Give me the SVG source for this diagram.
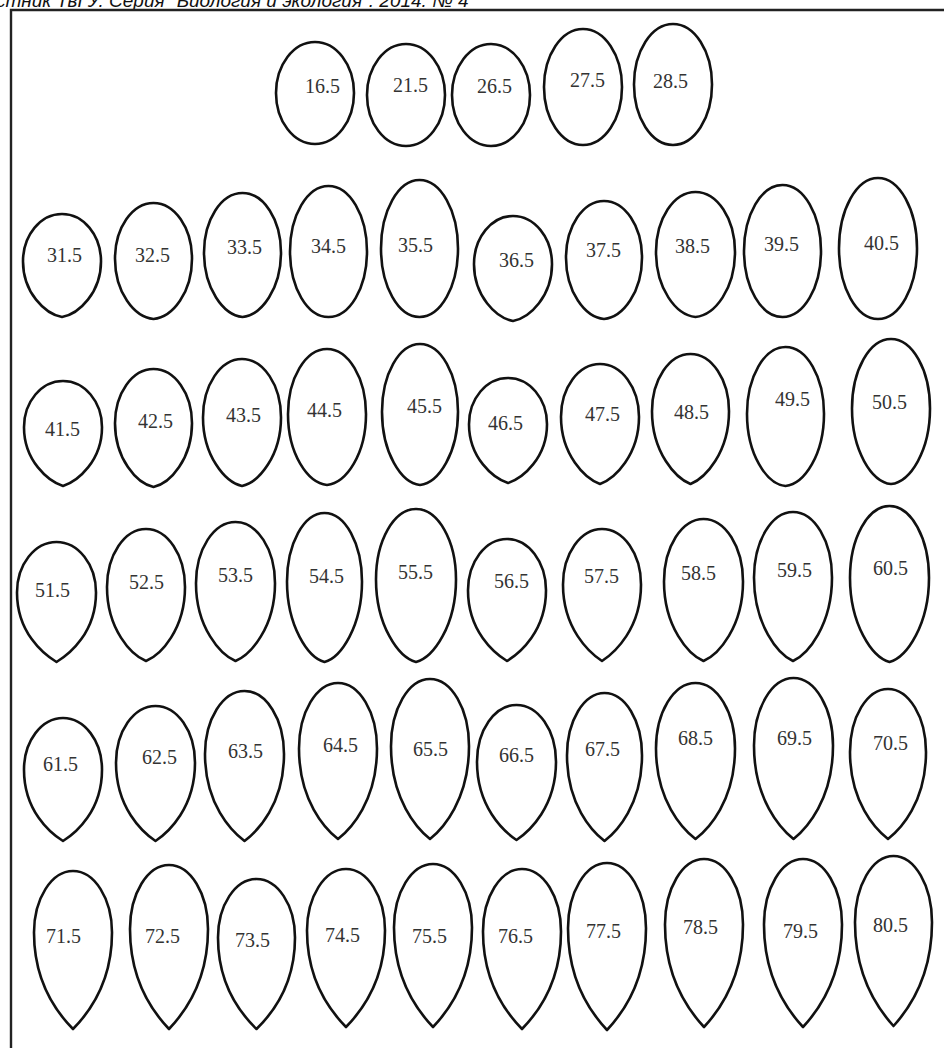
<svg xmlns="http://www.w3.org/2000/svg" xmlns:xlink="http://www.w3.org/1999/xlink" width="944" height="1048" viewBox="0 0 944 1048">
<style>
.egg{fill:#fff;stroke:#111;stroke-width:2.6;stroke-linejoin:round}
.lbl{font-family:'Liberation Serif','DejaVu Serif',serif;font-size:20px;fill:#333}
.hdr{font-family:'Liberation Sans',Arial,sans-serif;font-size:19px;font-style:italic;fill:#111}
.frame{fill:none;stroke:#222;stroke-width:2.4}
</style>
<defs>
<path id="T0" class="egg" vector-effect="non-scaling-stroke" d="M-1,0.5 C-1,0.224 -0.552,0 0,0 C0.552,0 1,0.224 1,0.5 C1,0.776 0.552,1 0,1 C-0.552,1 -1,0.776 -1,0.5Z"/>
<path id="T1" class="egg" vector-effect="non-scaling-stroke" d="M-1,0.48 C-1,0.215 -0.552,0 0,0 C0.552,0 1,0.215 1,0.48 C1,0.77 0.5,0.985 0,1 C-0.5,0.985 -1,0.77 -1,0.48Z"/>
<path id="T2" class="egg" vector-effect="non-scaling-stroke" d="M-1,0.46 C-1,0.206 -0.552,0 0,0 C0.552,0 1,0.206 1,0.46 C1,0.76 0.44,0.97 0,1 C-0.44,0.97 -1,0.76 -1,0.46Z"/>
<path id="T3" class="egg" vector-effect="non-scaling-stroke" d="M-1,0.44 C-1,0.197 -0.552,0 0,0 C0.552,0 1,0.197 1,0.44 C1,0.76 0.38,0.955 0,1 C-0.38,0.955 -1,0.76 -1,0.44Z"/>
<path id="T4" class="egg" vector-effect="non-scaling-stroke" d="M-1,0.42 C-1,0.188 -0.552,0 0,0 C0.552,0 1,0.188 1,0.42 C1,0.755 0.33,0.935 0,1 C-0.33,0.935 -1,0.755 -1,0.42Z"/>
<path id="T5" class="egg" vector-effect="non-scaling-stroke" d="M-1,0.39 C-1,0.175 -0.552,0 0,0 C0.552,0 1,0.175 1,0.39 C1,0.73 0.3,0.925 0,1 C-0.3,0.925 -1,0.73 -1,0.39Z"/>
</defs>
<rect width="944" height="1048" fill="#fff"/>
<text class="hdr" x="-4" y="7">стник ТвГУ. Серия "Биология и экология". 2014. № 4</text>
<path class="frame" d="M11,1048 V10 H944"/>
<g id="connectors"/>

<g id="e16"><use xlink:href="#T0" transform="translate(315,42) scale(39,102)"/><text class="lbl" x="305" y="93">16.5</text></g>
<g id="e21"><use xlink:href="#T0" transform="translate(406,44) scale(39,102)"/><text class="lbl" x="393" y="92">21.5</text></g>
<g id="e26"><use xlink:href="#T0" transform="translate(491,44) scale(39,102)"/><text class="lbl" x="477" y="93">26.5</text></g>
<g id="e27"><use xlink:href="#T0" transform="translate(583,29) scale(39,116)"/><text class="lbl" x="570" y="87">27.5</text></g>
<g id="e28"><use xlink:href="#T0" transform="translate(673,24) scale(39,121)"/><text class="lbl" x="653" y="88">28.5</text></g>

<g id="e31"><use xlink:href="#T2" transform="translate(62,214) scale(39,103)"/><text class="lbl" x="47" y="262">31.5</text></g>
<g id="e32"><use xlink:href="#T1" transform="translate(153.5,203) scale(38.5,116)"/><text class="lbl" x="135" y="262">32.5</text></g>
<g id="e33"><use xlink:href="#T1" transform="translate(242.5,193) scale(38.5,124)"/><text class="lbl" x="227" y="254">33.5</text></g>
<g id="e34"><use xlink:href="#T0" transform="translate(328.5,186) scale(38.5,131)"/><text class="lbl" x="311" y="253">34.5</text></g>
<g id="e35"><use xlink:href="#T0" transform="translate(419.5,180) scale(38.5,137)"/><text class="lbl" x="398" y="252">35.5</text></g>
<g id="e36"><use xlink:href="#T2" transform="translate(513,216) scale(39,105)"/><text class="lbl" x="499" y="267">36.5</text></g>
<g id="e37"><use xlink:href="#T1" transform="translate(604,201) scale(38,118)"/><text class="lbl" x="586" y="257">37.5</text></g>
<g id="e38"><use xlink:href="#T1" transform="translate(695.5,192) scale(39.5,125)"/><text class="lbl" x="675" y="253">38.5</text></g>
<g id="e39"><use xlink:href="#T0" transform="translate(782.5,185) scale(38.5,132)"/><text class="lbl" x="764" y="251">39.5</text></g>
<g id="e40"><use xlink:href="#T0" transform="translate(878,178) scale(39,141)"/><text class="lbl" x="864" y="250">40.5</text></g>

<g id="e41"><use xlink:href="#T3" transform="translate(63,381) scale(39,105)"/><text class="lbl" x="45" y="436">41.5</text></g>
<g id="e42"><use xlink:href="#T2" transform="translate(153.5,369) scale(38.5,118)"/><text class="lbl" x="138" y="428">42.5</text></g>
<g id="e43"><use xlink:href="#T2" transform="translate(242,359) scale(39,127)"/><text class="lbl" x="226" y="422">43.5</text></g>
<g id="e44"><use xlink:href="#T1" transform="translate(327,349) scale(39,136)"/><text class="lbl" x="307" y="417">44.5</text></g>
<g id="e45"><use xlink:href="#T1" transform="translate(420,344) scale(38,141)"/><text class="lbl" x="407" y="413">45.5</text></g>
<g id="e46"><use xlink:href="#T3" transform="translate(508,378) scale(39,105)"/><text class="lbl" x="488" y="430">46.5</text></g>
<g id="e47"><use xlink:href="#T3" transform="translate(600,364) scale(39,120)"/><text class="lbl" x="585" y="421">47.5</text></g>
<g id="e48"><use xlink:href="#T3" transform="translate(690.5,354) scale(38.5,130)"/><text class="lbl" x="674" y="419">48.5</text></g>
<g id="e49"><use xlink:href="#T1" transform="translate(785.5,347) scale(38.5,139)"/><text class="lbl" x="775" y="406">49.5</text></g>
<g id="e50"><use xlink:href="#T1" transform="translate(891,339) scale(39,145)"/><text class="lbl" x="872" y="409">50.5</text></g>

<g id="e51"><use xlink:href="#T4" transform="translate(56.5,542) scale(39.5,120)"/><text class="lbl" x="35" y="597">51.5</text></g>
<g id="e52"><use xlink:href="#T3" transform="translate(146,529) scale(39,132)"/><text class="lbl" x="129" y="589">52.5</text></g>
<g id="e53"><use xlink:href="#T3" transform="translate(235.5,522) scale(39.5,139)"/><text class="lbl" x="218" y="582">53.5</text></g>
<g id="e54"><use xlink:href="#T2" transform="translate(324.5,513) scale(37.5,149)"/><text class="lbl" x="309" y="583">54.5</text></g>
<g id="e55"><use xlink:href="#T2" transform="translate(416,509) scale(40,153)"/><text class="lbl" x="398" y="579">55.5</text></g>
<g id="e56"><use xlink:href="#T4" transform="translate(507,539) scale(39,122)"/><text class="lbl" x="494" y="588">56.5</text></g>
<g id="e57"><use xlink:href="#T4" transform="translate(602,529) scale(39,132)"/><text class="lbl" x="584" y="583">57.5</text></g>
<g id="e58"><use xlink:href="#T3" transform="translate(703.5,519) scale(39.5,142)"/><text class="lbl" x="681" y="580">58.5</text></g>
<g id="e59"><use xlink:href="#T3" transform="translate(793,512) scale(39,149)"/><text class="lbl" x="777" y="577">59.5</text></g>
<g id="e60"><use xlink:href="#T2" transform="translate(889.5,506) scale(39.5,156)"/><text class="lbl" x="873" y="575">60.5</text></g>

<g id="e61"><use xlink:href="#T4" transform="translate(63,718) scale(39,123)"/><text class="lbl" x="43" y="771">61.5</text></g>
<g id="e62"><use xlink:href="#T4" transform="translate(155.5,706) scale(39.5,135)"/><text class="lbl" x="142" y="764">62.5</text></g>
<g id="e63"><use xlink:href="#T4" transform="translate(244.5,691) scale(39.5,150)"/><text class="lbl" x="228" y="758">63.5</text></g>
<g id="e64"><use xlink:href="#T4" transform="translate(338,683) scale(39,156)"/><text class="lbl" x="323" y="752">64.5</text></g>
<g id="e65"><use xlink:href="#T4" transform="translate(430,679) scale(39,160)"/><text class="lbl" x="413" y="756">65.5</text></g>
<g id="e66"><use xlink:href="#T4" transform="translate(516.5,705) scale(39.5,135)"/><text class="lbl" x="499" y="762">66.5</text></g>
<g id="e67"><use xlink:href="#T4" transform="translate(604.5,693) scale(37.5,148)"/><text class="lbl" x="585" y="756">67.5</text></g>
<g id="e68"><use xlink:href="#T4" transform="translate(695.5,683) scale(39.5,156)"/><text class="lbl" x="678" y="745">68.5</text></g>
<g id="e69"><use xlink:href="#T4" transform="translate(793.5,678) scale(39.5,161)"/><text class="lbl" x="777" y="745">69.5</text></g>
<g id="e70"><use xlink:href="#T4" transform="translate(888,689) scale(38,150)"/><text class="lbl" x="873" y="750">70.5</text></g>

<g id="e71"><use xlink:href="#T5" transform="translate(73,871) scale(39,158)"/><text class="lbl" x="46" y="943">71.5</text></g>
<g id="e72"><use xlink:href="#T5" transform="translate(169,865) scale(39,164)"/><text class="lbl" x="145" y="943">72.5</text></g>
<g id="e73"><use xlink:href="#T5" transform="translate(256.5,879) scale(38.5,150)"/><text class="lbl" x="235" y="947">73.5</text></g>
<g id="e74"><use xlink:href="#T5" transform="translate(346,869) scale(39,158)"/><text class="lbl" x="325" y="942">74.5</text></g>
<g id="e75"><use xlink:href="#T5" transform="translate(433,864) scale(39,163)"/><text class="lbl" x="412" y="943">75.5</text></g>
<g id="e76"><use xlink:href="#T5" transform="translate(522,869) scale(39,160)"/><text class="lbl" x="498" y="943">76.5</text></g>
<g id="e77"><use xlink:href="#T5" transform="translate(607,863) scale(39,167)"/><text class="lbl" x="586" y="938">77.5</text></g>
<g id="e78"><use xlink:href="#T5" transform="translate(704,859) scale(39,168)"/><text class="lbl" x="683" y="934">78.5</text></g>
<g id="e79"><use xlink:href="#T5" transform="translate(803,859) scale(39,168)"/><text class="lbl" x="783" y="938">79.5</text></g>
<g id="e80"><use xlink:href="#T5" transform="translate(893.5,856) scale(38.5,170)"/><text class="lbl" x="873" y="932">80.5</text></g>
</svg>
